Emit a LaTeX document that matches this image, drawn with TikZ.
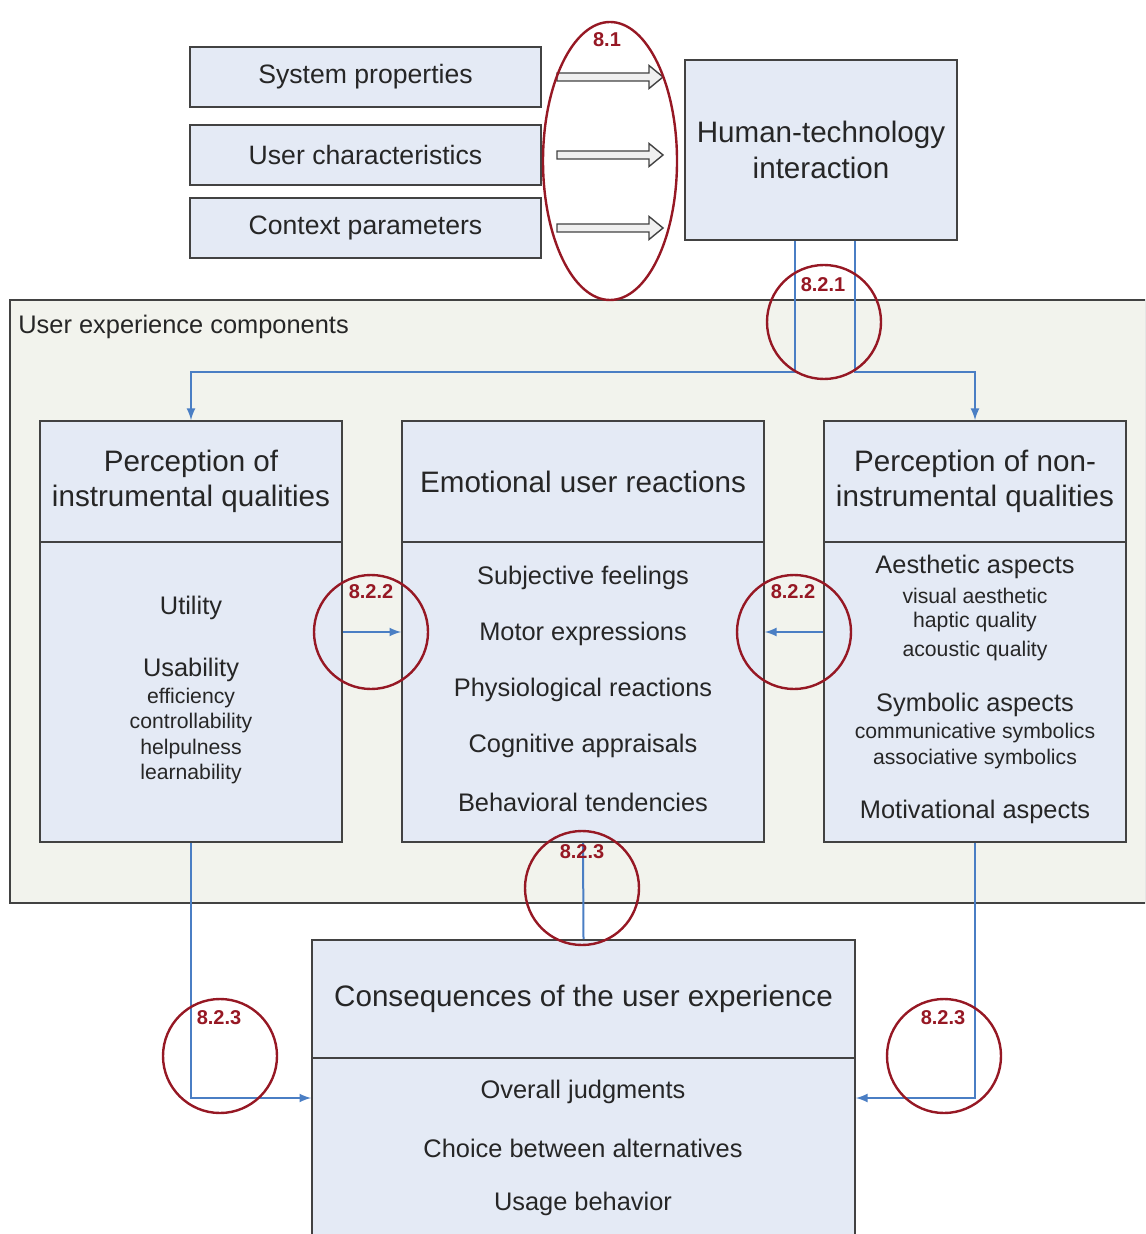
\documentclass[tikz,border=0pt]{standalone}
\usepackage{fontspec}
\setmainfont{Liberation Sans}
\usepackage{tikz}
\usetikzlibrary{arrows}
\tikzset{>=latex}
\definecolor{boxblue}{RGB}{228,234,245}
\definecolor{panelgrey}{RGB}{242,243,237}
\definecolor{flowblue}{RGB}{74,126,196}
\definecolor{markred}{RGB}{150,24,36}
\definecolor{edgegrey}{RGB}{66,66,66}
\tikzset{
  box/.style={draw=edgegrey,line width=0.9pt,fill=boxblue,align=center,text=black!85},
  topbox/.style={box,minimum width=175.5pt,minimum height=30pt,font=\fontsize{13.3}{16}\selectfont},
  headbox/.style={box,minimum height=60.5pt,font=\fontsize{14.8}{17.5}\selectfont},
  bodybox/.style={box,minimum height=150pt},
  panel/.style={draw=edgegrey,line width=0.9pt,fill=panelgrey},
  big/.style={inner sep=0pt,text=black!85,font=\fontsize{12.7}{15}\selectfont},
  small/.style={inner sep=0pt,text=black!85,font=\fontsize{10.6}{12}\selectfont},
  flow/.style={draw=flowblue,line width=1pt},
  hollow/.style={draw=edgegrey,fill=white!94!black,line width=0.7pt},
  ring/.style={draw=markred,line width=1.2pt},
  marklabel/.style={inner sep=0pt,text=markred,font=\fontsize{10}{12}\selectfont\bfseries}
}
\begin{document}
\begin{tikzpicture}[x=0.5pt,y=-0.5pt]
  \useasboundingbox (0,0) rectangle (1145,1234);
  \clip (0,0) rectangle (1145,1234);
  % components frame
  \node[panel,minimum width=568pt,minimum height=301.5pt] (ux) at (578,601.5) {};
  \node[big,anchor=west] (uxlabel) at (18,327) {User experience components};
  % inputs
  \node[topbox] (sys) at (365.5,77) {System properties};
  \node[topbox] (usr) at (365.5,155) {User characteristics};
  \node[topbox] (ctx) at (365.5,228) {Context parameters};
  \node[box,minimum width=136pt,minimum height=90pt,font=\fontsize{14.8}{18}\selectfont] (hti) at (821,150) {Human-technology\\interaction};
  \draw[hollow,shift={(557,77)}] (0,-4) -- (92,-4) -- (92,-11.5) -- (106,0) -- (92,11.5) -- (92,4) -- (0,4) -- cycle;
  \draw[hollow,shift={(557,155)}] (0,-4) -- (92,-4) -- (92,-11.5) -- (106,0) -- (92,11.5) -- (92,4) -- (0,4) -- cycle;
  \draw[hollow,shift={(557,228)}] (0,-4) -- (92,-4) -- (92,-11.5) -- (106,0) -- (92,11.5) -- (92,4) -- (0,4) -- cycle;
  % three components
  \node[headbox,minimum width=151pt] (instr) at (191,481.5) {Perception of\\instrumental qualities};
  \node[bodybox,minimum width=151pt] (instrbody) at (191,692) {};
  \node[headbox,minimum width=181pt] (emo) at (583,481.5) {Emotional user reactions};
  \node[bodybox,minimum width=181pt] (emobody) at (583,692) {};
  \node[headbox,minimum width=151pt] (nonin) at (975,481.5) {Perception of non-\\instrumental qualities};
  \node[bodybox,minimum width=151pt] (noninbody) at (975,692) {};
  % consequences
  \node[headbox,minimum width=271.5pt,minimum height=59pt] (cons) at (583.5,999) {Consequences of the user experience};
  \node[box,minimum width=271.5pt,minimum height=96pt] (consbody) at (583.5,1154) {};
  % texts in the boxes
  \node[big] (util) at (191,608) {Utility};
  \node[big] (usab) at (191,670) {Usability};
  \node[small] (eff) at (191,698) {efficiency};
  \node[small] (ctrl) at (191,723) {controllability};
  \node[small] (help) at (191,749) {helpulness};
  \node[small] (learn) at (191,774) {learnability};
  \node[big] (feel) at (583,578) {Subjective feelings};
  \node[big] (motor) at (583,634) {Motor expressions};
  \node[big] (phys) at (583,690) {Physiological reactions};
  \node[big] (cogn) at (583,746) {Cognitive appraisals};
  \node[big] (behav) at (583,802) {Behavioral tendencies};
  \node[big] (aesth) at (975,567) {Aesthetic aspects};
  \node[small] (visual) at (975,596) {visual aesthetic};
  \node[small] (haptic) at (975,622) {haptic quality};
  \node[small] (acoust) at (975,651) {acoustic quality};
  \node[big] (symb) at (975,705) {Symbolic aspects};
  \node[small] (comm) at (975,733) {communicative symbolics};
  \node[small] (assoc) at (975,759) {associative symbolics};
  \node[big] (motiv) at (975,812) {Motivational aspects};
  \node[big] (judge) at (583,1092) {Overall judgments};
  \node[big] (choice) at (583,1148) {Choice between alternatives};
  \node[big] (usage) at (583,1204) {Usage behavior};
  % connectors
  \draw[flow,->] ([xshift=-13.25pt]hti.south) -- ++(0,131) -| (instr.north);
  \draw[flow,->] ([xshift=16.75pt]hti.south) -- ++(0,131) -| (nonin.north);
  \draw[flow,->] ([yshift=30pt]instrbody.east) -- ([yshift=30pt]emobody.west);
  \draw[flow,->] ([yshift=30pt]noninbody.west) -- ([yshift=30pt]emobody.east);
  \draw[flow] (emobody.south) -- (cons.north);
  \draw[flow,->] (instrbody.south) |- ([yshift=28pt]consbody.west);
  \draw[flow,->] (noninbody.south) |- ([yshift=28pt]consbody.east);
  % marks
  \draw[ring] (610,161) ellipse [x radius=67, y radius=139];
  \draw[ring] (824,322) circle [radius=57];
  \draw[ring] (371,632) circle [radius=57];
  \draw[ring] (794,632) circle [radius=57];
  \draw[ring] (582,888) circle [radius=57];
  \draw[ring] (220,1056) circle [radius=57];
  \draw[ring] (944,1056) circle [radius=57];
  \node[marklabel] (l81) at (607,40) {8.1};
  \node[marklabel] (l821) at (823,285) {8.2.1};
  \node[marklabel] (l822a) at (371,592) {8.2.2};
  \node[marklabel] (l822b) at (793,592) {8.2.2};
  \node[marklabel] (l823a) at (582,852) {8.2.3};
  \node[marklabel] (l823b) at (219,1018) {8.2.3};
  \node[marklabel] (l823c) at (943,1018) {8.2.3};
\end{tikzpicture}
\end{document}
